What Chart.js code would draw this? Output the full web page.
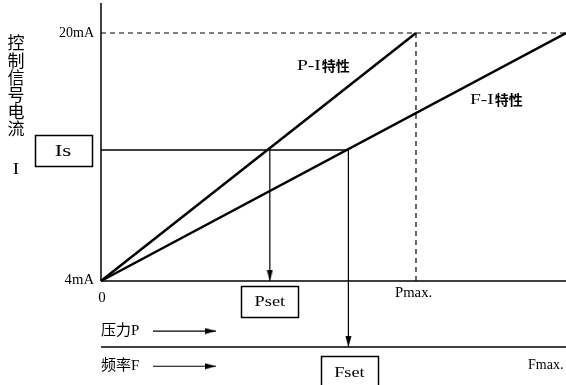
<!DOCTYPE html>
<html>
<head>
<meta charset="utf-8">
<script src="https://cdn.jsdelivr.net/npm/chart.js@4/dist/chart.umd.min.js"></script>
<style>
  html, body { margin: 0; padding: 0; background: #fff; }
  #wrap { width: 566px; height: 385px; }
</style>
</head>
<body>
<div id="wrap"><canvas id="chart"></canvas></div>
<script>
// 特性数据
const currentRange = [4, 20];          // 控制信号电流 mA
const currentSet = 12.45;              // Is
const pressureRange = [0, 100];        // 0 .. Pmax (%)
const freqRange = [0, 50];             // 0 .. Fmax (Hz)
const pressureSet = 53.6;              // Pset
const freqSet = 26.6;                  // Fset
const currentTickLabels = ['4mA', '20mA'];
const pressureTickLabels = ['0', 'Pmax.'];
const freqTickLabels = ['Fmax.'];

// 版面位置 (数据坐标)
const yAxisTop = 21.94;
const freqAxisLevel = -0.26;
const pArrowLevel = 0.77;
const fArrowLevel = -1.5;
const sideArrowX = [16.5, 36.5];

// 箭头图形
function makeArrowHead() {
    const c = document.createElement('canvas');
    c.width = 7; c.height = 24;
    const g = c.getContext('2d');
    g.fillStyle = '#000';
    g.beginPath();
    g.moveTo(0.5, 1);
    g.lineTo(6.5, 1);
    g.lineTo(3.5, 12);
    g.closePath();
    g.fill();
    return c;
}
const arrowHead = makeArrowHead();

function seg(points, xAxisID, width, extra) {
    return Object.assign({
        data: points,
        xAxisID: xAxisID,
        borderColor: '#000',
        borderWidth: width,
        pointRadius: 0,
        fill: false,
        tension: 0
    }, extra || {});
}

function arrow(points, xAxisID, rotation) {
    return seg(points, xAxisID, 1.2, {
        pointRadius: [0, 1],
        pointStyle: arrowHead,
        pointRotation: rotation
    });
}

const datasets = [
    // 坐标轴
    seg([{x: 0, y: currentRange[0]}, {x: 0, y: yAxisTop}], 'xP', 1.5),
    seg([{x: 0, y: currentRange[0]}, {x: freqRange[1], y: currentRange[0]}], 'xF', 1.5),
    seg([{x: 0, y: freqAxisLevel}, {x: freqRange[1], y: freqAxisLevel}], 'xF', 1.5),
    // 虚线
    seg([{x: 0, y: currentRange[1]}, {x: freqRange[1], y: currentRange[1]}], 'xF', 1.2, {borderDash: [5, 4]}),
    seg([{x: pressureRange[1], y: currentRange[0]}, {x: pressureRange[1], y: currentRange[1]}], 'xP', 1.2, {borderDash: [5, 4]}),
    // 特性线
    seg([{x: pressureRange[0], y: currentRange[0]}, {x: pressureRange[1], y: currentRange[1]}], 'xP', 2.5),
    seg([{x: freqRange[0], y: currentRange[0]}, {x: freqRange[1], y: currentRange[1]}], 'xF', 2.5),
    // Is 水平线
    seg([{x: 0, y: currentSet}, {x: freqSet, y: currentSet}], 'xF', 1.5),
    // 向下箭头
    arrow([{x: pressureSet, y: currentSet}, {x: pressureSet, y: currentRange[0]}], 'xP', 0),
    arrow([{x: freqSet, y: currentSet}, {x: freqSet, y: freqAxisLevel}], 'xF', 0),
    // 压力P / 频率F 箭头
    arrow([{x: sideArrowX[0], y: pArrowLevel}, {x: sideArrowX[1], y: pArrowLevel}], 'xP', -90),
    arrow([{x: sideArrowX[0], y: fArrowLevel}, {x: sideArrowX[1], y: fArrowLevel}], 'xP', -90)
];

const SERIF = '"Liberation Serif", "Noto Sans CJK SC", serif';

const labelPlugin = {
    id: 'labels',
    afterDraw(chart) {
        const ctx = chart.ctx;
        const xP = chart.scales.xP, xF = chart.scales.xF, y = chart.scales.y;
        ctx.save();
        ctx.fillStyle = '#000';
        ctx.strokeStyle = '#000';
        ctx.textBaseline = 'middle';

        // 横向拉宽的文字 (原图西文字符较宽)
        function text(t, x, yy, align, font, stretch) {
            const k = stretch || 1;
            ctx.font = font || ('14px ' + SERIF);
            ctx.textAlign = align || 'left';
            ctx.save();
            ctx.translate(x, yy);
            ctx.scale(k, 1);
            ctx.fillText(t, 0, 0);
            ctx.restore();
            return ctx.measureText(t).width * k;
        }
        function box(cx, cy, w, h, t, size, stretch) {
            ctx.lineWidth = 1.5;
            ctx.strokeRect(Math.round(cx - w / 2) + 0.5, Math.round(cy - h / 2) + 0.5, w, h);
            text(t, cx, cy + 1, 'center', size + 'px ' + SERIF, stretch);
        }

        // 刻度文字
        text(currentTickLabels[1], 94, y.getPixelForValue(currentRange[1]), 'right', '14px ' + SERIF);
        text(currentTickLabels[0], 94, y.getPixelForValue(currentRange[0]) - 1, 'right', '14px ' + SERIF, 1.05);
        text(pressureTickLabels[0], xP.getPixelForValue(0) + 1, 298, 'center', '15px ' + SERIF);
        text(pressureTickLabels[1], xP.getPixelForValue(pressureRange[1]) - 21, 293, 'left', '14px ' + SERIF, 1.05);
        text(freqTickLabels[0], 528, 365, 'left', '14px ' + SERIF);

        // 纵轴标题
        const chars = '控制信号电流'.split('');
        chars.forEach((ch, i) => text(ch, 16, 45 + i * 17.2, 'center', '17px ' + SERIF));
        text('I', 16, 170, 'center', '16px ' + SERIF, 1.2);

        // 特性名称
        function curveName(prefix, x, yy) {
            const w = text(prefix, x, yy, 'left', '15px ' + SERIF, 1.3);
            text('特性', x + w + 1, yy, 'left', 'bold 14px "Noto Sans CJK SC", sans-serif');
        }
        curveName('P-I', 297, 66);
        curveName('F-I', 470, 100);

        // 横轴说明
        text('压力P', 101, 331, 'left', '15px ' + SERIF);
        text('频率F', 101, 366, 'left', '15px ' + SERIF);

        // 方框
        box(63, y.getPixelForValue(currentSet), 57, 31, 'Is', 17, 1.35);
        box(xP.getPixelForValue(pressureSet), 301, 57, 31, 'Pset', 15, 1.22);
        box(xF.getPixelForValue(freqSet) + 1, 372, 57, 32, 'Fset', 15, 1.22);

        ctx.restore();
    }
};

new Chart(document.getElementById('chart'), {
    type: 'line',
    data: { datasets: datasets },
    options: {
        responsive: true,
        maintainAspectRatio: false,
        animation: false,
        events: [],
        layout: { padding: 0, autoPadding: false },
        plugins: { legend: { display: false }, tooltip: { enabled: false } },
        scales: {
            xP: { type: 'linear', display: false, min: -32.06, max: 147.62 },
            xF: { type: 'linear', display: false, min: -10.86, max: 50 },
            y: { type: 'linear', display: false, min: -2.71, max: 22.13 }
        }
    },
    plugins: [labelPlugin]
});
</script>
</body>
</html>
